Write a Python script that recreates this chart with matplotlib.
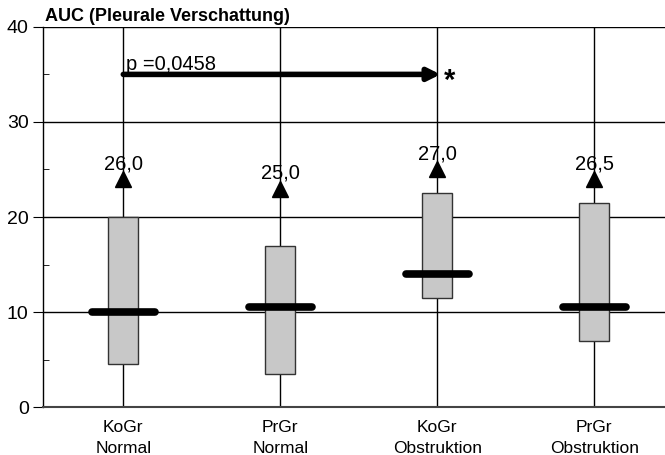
import matplotlib.pyplot as plt

# Data
groups = ['KoGr\nNormal', 'PrGr\nNormal', 'KoGr\nObstruktion', 'PrGr\nObstruktion']
q1 = [4.5, 3.5, 11.5, 7.0]
q3 = [20.0, 17.0, 22.5, 21.5]
medians = [10.0, 10.5, 14.0, 10.5]
marker_y = [24.0, 23.0, 25.0, 24.0]
max_labels = ['26,0', '25,0', '27,0', '26,5']
p_text = 'p =0,0458'

plt.rcParams['font.family'] = ['Liberation Sans', 'DejaVu Sans']

fig = plt.figure(figsize=(6.65, 4.55), dpi=100)
ax = fig.add_axes([0.065, 0.105, 0.935, 0.836])

x = list(range(len(groups)))

# full-height vertical lines at each group + horizontal grid
for xi in x:
    ax.axvline(xi, color='black', lw=1.0, zorder=1)
for yv in [10, 20, 30, 40]:
    ax.axhline(yv, color='black', lw=1.0, zorder=1)

# boxes
ax.bar(x, [b - a for a, b in zip(q1, q3)], bottom=q1, width=0.19,
       color='#c8c8c8', edgecolor='#333333', lw=1.0, zorder=2)

# medians
for xi, m in zip(x, medians):
    ax.plot([xi - 0.2, xi + 0.2], [m, m], color='black', lw=5.5,
            solid_capstyle='round', zorder=3)

# maximum markers and labels
for xi, my, lab in zip(x, marker_y, max_labels):
    ax.plot(xi, my, marker='^', color='black', markersize=11, zorder=3)
    ax.text(xi, my + 1.05, lab, ha='center', va='baseline', fontsize=14.5, zorder=4)

# significance arrow
ax.annotate('', xy=(2.02, 35), xytext=(0, 35),
            arrowprops=dict(arrowstyle='-|>', color='black', lw=4,
                            mutation_scale=18, shrinkA=0, shrinkB=0))
ax.text(0.02, 35.5, p_text, ha='left', va='baseline', fontsize=14.5)
ax.text(2.04, 34.3, '*', ha='left', va='center', fontsize=21, fontweight='bold')

ax.set_xlim(-0.51, 3.45)
ax.set_ylim(0, 40)
ax.set_yticks([0, 10, 20, 30, 40])
ax.set_yticks([5, 15, 25, 35], minor=True)
ax.tick_params(axis='y', which='major', direction='out', length=7, labelsize=14)
ax.tick_params(axis='y', which='minor', direction='in', length=4)
ax.set_xticks(x)
ax.set_xticklabels(groups, fontsize=12.5, linespacing=1.5)
ax.tick_params(axis='x', length=0, pad=9)

for s in ['top', 'right']:
    ax.spines[s].set_visible(False)
ax.spines['bottom'].set_linewidth(1.5)
ax.spines['bottom'].set_color('#444444')
ax.spines['left'].set_linewidth(1.0)

fig.text(0.068, 0.963, 'AUC (Pleurale Verschattung)', fontsize=13,
         fontweight='bold', ha='left', va='center')

fig.savefig('out.png', dpi=100)
